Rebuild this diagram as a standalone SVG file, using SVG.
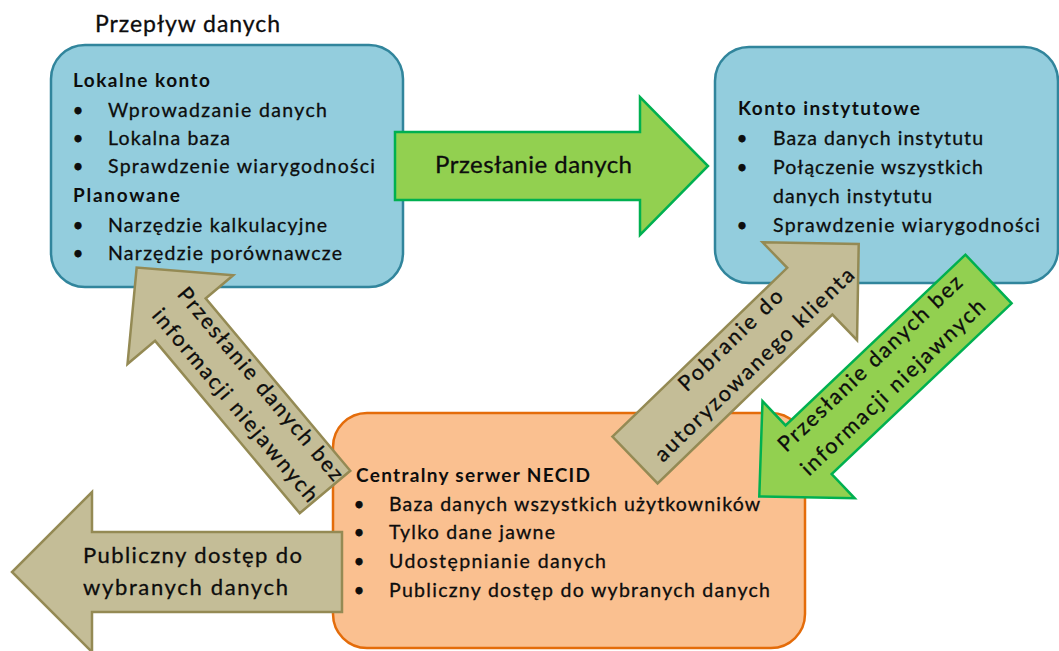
<svg xmlns="http://www.w3.org/2000/svg" width="1059" height="651" viewBox="0 0 1059 651">
<style>
text{font-family:Lato,"Open Sans","Liberation Sans",sans-serif;fill:#0d0d0d;stroke:#0d0d0d;stroke-width:0.3}
.bx{fill:#93CDDD;stroke:#31859C;stroke-width:2.5}
.or{fill:#FAC090;stroke:#E46C0A;stroke-width:2.5}
.gr{fill:#92D050;stroke:#00B050;stroke-width:2.5}
.tn{fill:#C4BD97;stroke:#948A54;stroke-width:2.5}
.t{font-size:19.5px}
.h{font-size:19px;font-weight:bold;stroke-width:0}
.b{font-size:19px;text-anchor:middle}
.at{font-size:21.5px;text-anchor:middle}
</style>
<rect width="1059" height="651" fill="#fff"/>
<text x="95" y="32" style="font-size:23px" textLength="185" lengthAdjust="spacing">Przepływ danych</text>

<g id="lokalne-konto">
<rect class="bx" x="51" y="45" width="352" height="242" rx="34"/>
<text class="h" x="73" y="87" textLength="137" lengthAdjust="spacing">Lokalne konto</text>
<text class="b" x="78" y="117">•</text><text class="t" x="108" y="117" textLength="219" lengthAdjust="spacing">Wprowadzanie danych</text>
<text class="b" x="78" y="145">•</text><text class="t" x="108" y="145" textLength="122" lengthAdjust="spacing">Lokalna baza</text>
<text class="b" x="78" y="173">•</text><text class="t" x="108" y="173" textLength="267" lengthAdjust="spacing">Sprawdzenie wiarygodności</text>
<text class="h" x="73" y="202" textLength="107" lengthAdjust="spacing">Planowane</text>
<text class="b" x="78" y="232">•</text><text class="t" x="108" y="232" textLength="219" lengthAdjust="spacing">Narzędzie kalkulacyjne</text>
<text class="b" x="78" y="260">•</text><text class="t" x="108" y="260" textLength="234" lengthAdjust="spacing">Narzędzie porównawcze</text>
</g>

<g id="konto-instytutowe">
<rect class="bx" x="715" y="47" width="343" height="236" rx="34"/>
<text class="h" x="738" y="115" textLength="182" lengthAdjust="spacing">Konto instytutowe</text>
<text class="b" x="742" y="145">•</text><text class="t" x="773" y="145" textLength="210" lengthAdjust="spacing">Baza danych instytutu</text>
<text class="b" x="742" y="174">•</text><text class="t" x="773" y="174" textLength="210" lengthAdjust="spacing">Połączenie wszystkich</text>
<text class="t" x="773" y="203" textLength="159" lengthAdjust="spacing">danych instytutu</text>
<text class="b" x="742" y="232">•</text><text class="t" x="773" y="232" textLength="267" lengthAdjust="spacing">Sprawdzenie wiarygodności</text>
</g>

<g id="centralny-serwer">
<rect class="or" x="333" y="413" width="472" height="235" rx="34"/>
<text class="h" x="356" y="482" textLength="234" lengthAdjust="spacing">Centralny serwer NECID</text>
<text class="b" x="359" y="511">•</text><text class="t" x="389" y="511" textLength="371" lengthAdjust="spacing">Baza danych wszystkich użytkowników</text>
<text class="b" x="359" y="539">•</text><text class="t" x="389" y="539" textLength="166" lengthAdjust="spacing">Tylko dane jawne</text>
<text class="b" x="359" y="568">•</text><text class="t" x="389" y="568" textLength="217" lengthAdjust="spacing">Udostępnianie danych</text>
<text class="b" x="359" y="597">•</text><text class="t" x="389" y="597" textLength="381" lengthAdjust="spacing">Publiczny dostęp do wybranych danych</text>
</g>

<g id="connectors">
<g id="przeslanie-danych">
<path class="gr" d="M395,132 L640,132 L640,97 L708,166 L640,235 L640,200 L395,200 Z"/>
<text x="435" y="173" style="font-size:24px" textLength="197" lengthAdjust="spacing">Przesłanie danych</text>
</g>
<g id="publiczny-dostep">
<path class="tn" d="M342,532 L92,532 L92,492 L12,572 L92,652 L92,612 L342,612 Z"/>
<text x="83" y="563" style="font-size:22px" textLength="219" lengthAdjust="spacing">Publiczny dostęp do</text>
<text x="83" y="595" style="font-size:22px" textLength="205" lengthAdjust="spacing">wybranych danych</text>
</g>
<g id="necid-do-lokalne">
<path class="tn" transform="translate(325,492) rotate(230)" d="M0,-33 L225,-33 L225,-69 L293,0 L225,69 L225,33 L0,33 Z"/>
<g transform="translate(245,397) rotate(50)">
<text class="at" x="0" y="-13" textLength="245" lengthAdjust="spacing">Przesłanie danych bez</text>
<text class="at" x="0" y="20" textLength="245" lengthAdjust="spacing">informacji niejawnych</text>
</g>
</g>
<g id="pobranie">
<path class="tn" transform="translate(635,460) rotate(-44)" d="M0,-32.5 L243,-32.5 L243,-68 L311,0 L243,68 L243,32.5 L0,32.5 Z"/>
<g transform="translate(744,354) rotate(-44)">
<text class="at" x="0" y="-12" textLength="136" lengthAdjust="spacing">Pobranie do</text>
<text class="at" x="0" y="22" textLength="268" lengthAdjust="spacing">autoryzowanego klienta</text>
</g>
</g>
<g id="instytut-do-necid">
<path class="gr" transform="translate(988.5,279) rotate(136.5)" d="M0,-33.5 L248,-33.5 L248,-67 L316,0 L248,67 L248,33.5 L0,33.5 Z"/>
<g transform="translate(884,378) rotate(-43.5)">
<text class="at" x="0" y="-13" textLength="245" lengthAdjust="spacing">Przesłanie danych bez</text>
<text class="at" x="0" y="20" textLength="245" lengthAdjust="spacing">informacji niejawnych</text>
</g>
</g>
</g>
</svg>
